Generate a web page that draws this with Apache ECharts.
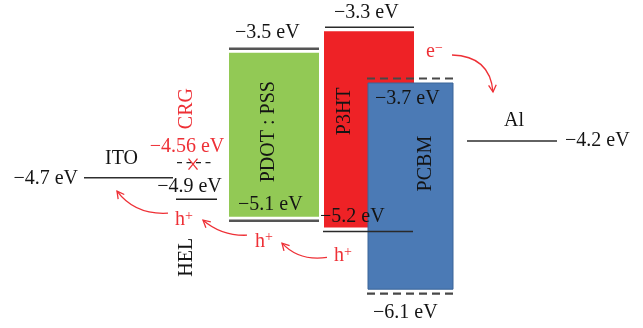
<!DOCTYPE html>
<html>
<head>
<meta charset="utf-8">
<script src="https://cdn.jsdelivr.net/npm/echarts@6/dist/echarts.min.js"></script>
<style>
html,body{margin:0;padding:0;background:#fff;}
#chart{width:643px;height:328px;}
</style>
</head>
<body>
<div id="chart"></div>
<script>
// ---------------- data (energies in eV) ----------------
const materials   = ['ITO', 'HEL', 'CRG', 'PDOT : PSS', 'P3HT', 'PCBM', 'Al'];
const upperLevel  = [null, null, null, -3.5, -3.3, -3.7, null];   // band top (LUMO)
const lowerLevel  = [null, null, null, -5.1, -5.2, -6.1, null];   // band bottom (HOMO)
const singleLevel = [-4.7, -4.9, -4.56, null, null, null, -4.2];  // single level / work function
const carrierLabels = ['h+', 'h+', 'h+', 'e−'];

// ---------------- layout & styles ----------------
const FONT = 'Liberation Serif';
const BLACK = '#141414';
const RED = '#ee3036';
const FS = 20;

const matStyle = {
  'ITO': {
    axis: 0, x: [84, 173],
    line: { color: '#2e2e2e', width: 1.6 },
    labels: { single: { at: 'start', dx: -6, dy: 1, align: 'right' } },
    name: { ref: 'single', dx: -7, dy: -19 }
  },
  'HEL': {
    axis: 0, x: [176, 217],
    line: { color: '#1e1e1e', width: 1.4 },
    labels: { single: { at: 'center', dx: -7, dy: -12, align: 'center' } },
    name: { ref: 'single', dx: -10, dy: 58, rotate: true }
  },
  'CRG': {
    axis: 0, x: [177, 213],
    line: { color: '#222', width: 1.3, dash: [5, 4.5] },
    labels: { single: { at: 'center', dx: -8, dy: -16, align: 'center', color: RED } },
    name: { ref: 'single', dx: -8.5, dy: -54, rotate: true, color: RED },
    mark: { dx: -2, dy: 1.5, w: 4.5, h: 5.5, color: RED }
  },
  'PDOT : PSS': {
    axis: 0, x: [229, 319], fill: '#92c955', inset: 4,
    line: { color: '#555', width: 2.6 },
    labels: {
      upper: { at: 'start', dx: 6, dy: -15.5, align: 'left' },
      lower: { at: 'start', dx: 9, dy: -15.5, align: 'left' }
    },
    name: { ref: 'box', dx: -5, dy: -3, rotate: true }
  },
  'P3HT': {
    axis: 0, x: [324, 414], fill: '#ee2226', inset: 4,
    lineX: { upper: [325, 414], lower: [323, 413] },
    line: { color: '#2a2a2a', width: 1.6 },
    labels: {
      upper: { at: 'start', dx: 9, dy: -14, align: 'left' },
      lower: { at: 'start', dx: -3, dy: -15, align: 'left' }
    },
    name: { ref: 'box', dx: -24, dy: -18, rotate: true }
  },
  'PCBM': {
    axis: 1, x: [367, 457], boxX: [368, 453], fill: '#4b7ab5', inset: 4.5,
    boxStroke: '#3b6598', boxStrokeWidth: 1,
    line: { color: '#484848', width: 2.2, dash: [8, 5] },
    labels: {
      upper: { at: 'start', dx: 8, dy: 20.5, align: 'left' },
      lower: { at: 'start', dx: 6, dy: 19.5, align: 'left' }
    },
    name: { ref: 'box', dx: 15, dy: -22.5, rotate: true }
  },
  'Al': {
    axis: 2, x: [467, 557],
    line: { color: '#2e2e2e', width: 1.6 },
    labels: { single: { at: 'end', dx: 8, dy: 0, align: 'left' } },
    name: { ref: 'single', dx: 2, dy: -20 }
  }
};

// carriers: anchored to a level of a material, arrow points relative to the label anchor
const carrierStyle = [
  { mat: 'HEL',        level: 'single', at: 'start', dx: -1, dy: 21,    arrow: [[-7, -7],  [-40, -5],  [-58, -29]] },
  { mat: 'PDOT : PSS', level: 'lower',  at: 'start', dx: 26, dy: 21,    arrow: [[-8, -6.5],[-33, -5.5],[-52, -21.5]] },
  { mat: 'P3HT',       level: 'lower',  at: 'start', dx: 11, dy: 24.5,  arrow: [[-7, 1.5], [-35, 5.5], [-52, -12.8]] },
  { mat: 'PCBM',       level: 'upper',  at: 'start', dx: 59, dy: -26.5, arrow: [[26, 3],   [64, 4],    [67, 40]] }
];

// hidden energy scales (schematic diagram: each column group has its own linear scale)
const yScales = [
  { min: -6.0981, max: -3.0470 },
  { min: -6.4825, max: -2.8245 },
  { min: -5.9395, max: -2.8884 }
];

const fmtE = e => '−' + Math.abs(e) + ' eV';
const levelsOf = i => ({ upper: upperLevel[i], lower: lowerLevel[i], single: singleLevel[i] });

function textEl(x, y, text, opt) {
  opt = opt || {};
  return {
    type: 'text', x: x, y: y, rotation: opt.rotate ? Math.PI / 2 : 0,
    style: {
      text: text, fill: opt.color || BLACK, fontFamily: FONT, fontSize: FS,
      align: opt.align || 'center', verticalAlign: 'middle'
    }
  };
}

function renderBox(params, api) {
  const i = api.value(0);
  const st = matStyle[materials[i]];
  const bx = st.boxX || st.x;
  const p0 = api.coord([bx[0], upperLevel[i]]);
  const p1 = api.coord([bx[1], lowerLevel[i]]);
  return {
    type: 'rect',
    shape: { x: p0[0], y: p0[1] + st.inset, width: p1[0] - p0[0], height: p1[1] - p0[1] - 2 * st.inset },
    style: { fill: st.fill, stroke: st.boxStroke || null, lineWidth: st.boxStrokeWidth || 0 }
  };
}

function renderLevels(params, api) {
  const i = api.value(0);
  const name = materials[i];
  const st = matStyle[name];
  const lv = levelsOf(i);
  const children = [];
  const linePos = {};
  ['upper', 'lower', 'single'].forEach(function (k) {
    const e = lv[k];
    if (e == null) return;
    const xs = (st.lineX && st.lineX[k]) || st.x;
    const p0 = api.coord([xs[0], e]);
    const p1 = api.coord([xs[1], e]);
    linePos[k] = { x0: p0[0], x1: p1[0], y: p0[1] };
    children.push({
      type: 'line',
      shape: { x1: p0[0], y1: p0[1], x2: p1[0], y2: p1[1] },
      style: { stroke: st.line.color, lineWidth: st.line.width, lineDash: st.line.dash || null }
    });
    const lab = st.labels[k];
    const ax = lab.at === 'start' ? p0[0] : lab.at === 'end' ? p1[0] : (p0[0] + p1[0]) / 2;
    children.push(textEl(ax + lab.dx, p0[1] + lab.dy, fmtE(e), { align: lab.align, color: lab.color }));
  });
  // material name
  let cx, cy;
  if (st.name.ref === 'box') {
    const bx = st.boxX || st.x;
    const a = api.coord([bx[0], lv.upper]), b = api.coord([bx[1], lv.lower]);
    cx = (a[0] + b[0]) / 2; cy = (a[1] + b[1]) / 2;
  } else {
    const L = linePos.single;
    cx = (L.x0 + L.x1) / 2; cy = L.y;
  }
  children.push(textEl(cx + st.name.dx, cy + st.name.dy, name, { rotate: st.name.rotate, color: st.name.color }));
  // blocking mark
  if (st.mark) {
    const L = linePos.single;
    const mx = (L.x0 + L.x1) / 2 + st.mark.dx, my = L.y + st.mark.dy;
    [[-1, -1, 1, 1], [-1, 1, 1, -1]].forEach(function (d) {
      children.push({
        type: 'line',
        shape: { x1: mx + d[0] * st.mark.w, y1: my + d[1] * st.mark.h, x2: mx + d[2] * st.mark.w, y2: my + d[3] * st.mark.h },
        style: { stroke: st.mark.color, lineWidth: 1.3 }
      });
    });
  }
  // carriers anchored on this material
  carrierStyle.forEach(function (c, ci) {
    if (c.mat !== name) return;
    const L = linePos[c.level];
    const ax = (c.at === 'start' ? L.x0 : L.x1) + c.dx;
    const ay = L.y + c.dy;
    const lbl = carrierLabels[ci];
    children.push({
      type: 'text', x: ax, y: ay,
      style: {
        text: '{b|' + lbl.charAt(0) + '}{s|' + lbl.slice(1) + '}',
        align: 'left', verticalAlign: 'middle', fill: RED, fontFamily: FONT,
        rich: {
          b: { fontSize: FS, lineHeight: 22, fontFamily: FONT, fill: RED },
          s: { fontSize: 14, lineHeight: 11, verticalAlign: 'top', fontFamily: FONT, fill: RED }
        }
      }
    });
    const s = c.arrow[0], cp = c.arrow[1], e = c.arrow[2];
    const P = pt => [ax + pt[0], ay + pt[1]];
    const ps = P(s), pc = P(cp), pe = P(e);
    children.push({
      type: 'bezierCurve',
      shape: { x1: ps[0], y1: ps[1], x2: pe[0], y2: pe[1], cpx1: pc[0], cpy1: pc[1] },
      style: { stroke: RED, lineWidth: 1.3, fill: null }
    });
    const ang = Math.atan2(pe[1] - pc[1], pe[0] - pc[0]);
    const len = 8, spread = 0.5;
    const l1 = [pe[0] - len * Math.cos(ang - spread), pe[1] - len * Math.sin(ang - spread)];
    const l2 = [pe[0] - len * Math.cos(ang + spread), pe[1] - len * Math.sin(ang + spread)];
    children.push({
      type: 'polyline',
      shape: { points: [l1, pe, l2] },
      style: { stroke: RED, lineWidth: 1.3, fill: null }
    });
  });
  return { type: 'group', children: children };
}

function idxOnAxis(axis, needBox) {
  const out = [];
  materials.forEach(function (m, i) {
    const st = matStyle[m];
    if (st.axis !== axis) return;
    if (needBox && !st.fill) return;
    out.push([i]);
  });
  return out;
}

const series = [];
[0, 1].forEach(function (a) {
  series.push({ type: 'custom', name: 'bands' + a, xAxisIndex: 0, yAxisIndex: a, z: 2 + a,
    data: idxOnAxis(a, true), renderItem: renderBox, silent: true, animation: false });
});
[0, 1, 2].forEach(function (a) {
  series.push({ type: 'custom', name: 'levels' + a, xAxisIndex: 0, yAxisIndex: a, z: 10,
    data: idxOnAxis(a, false), renderItem: renderLevels, silent: true, animation: false });
});

const chart = echarts.init(document.getElementById('chart'), null, { renderer: 'canvas' });
chart.setOption({
  backgroundColor: '#ffffff',
  animation: false,
  grid: { left: 0, right: 0, top: 0, bottom: 0 },
  xAxis: { type: 'value', min: 0, max: 643, show: false },
  yAxis: yScales.map(function (s) { return { type: 'value', min: s.min, max: s.max, show: false }; }),
  series: series
});
</script>
</body>
</html>
